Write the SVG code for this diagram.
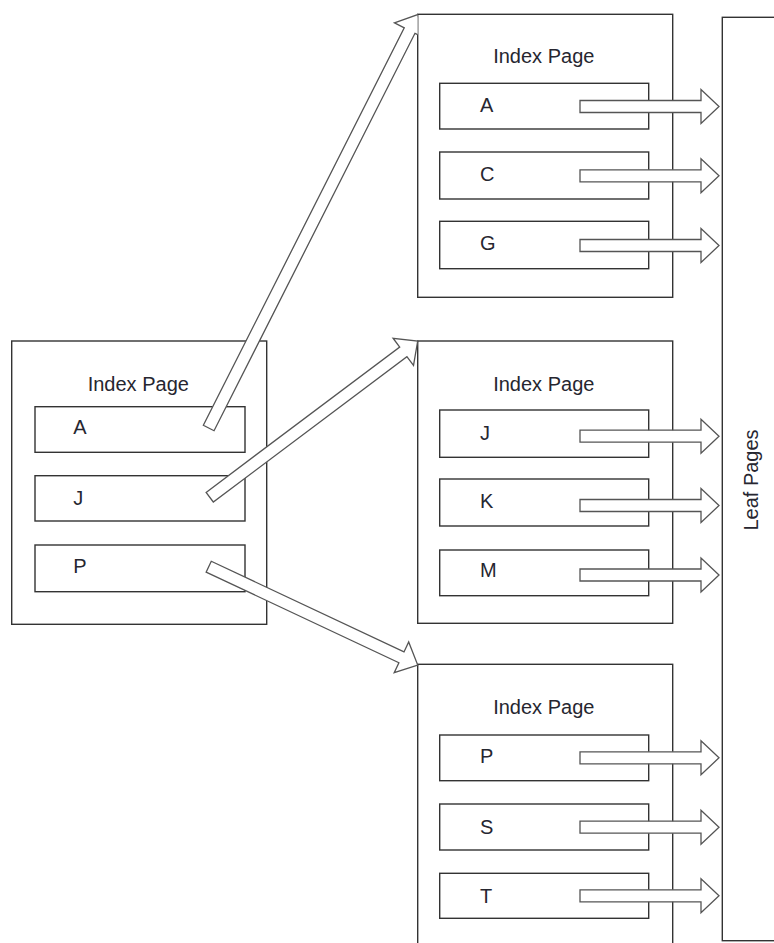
<svg xmlns="http://www.w3.org/2000/svg" width="774" height="943" viewBox="0 0 774 943">
<style>
.box{fill:#fff;stroke:#333;stroke-width:1.4}
.row{fill:#fff;stroke:#333;stroke-width:1.4}
.arr{fill:#fff;stroke:#555;stroke-width:1.3;stroke-linejoin:miter}
.t{font-family:"Liberation Sans",Arial,sans-serif;font-size:20px;fill:#262630}
.c{text-anchor:middle}
</style>
<defs>
<path id="harrow" d="M0,-6 H121 V-17 L139,0 L121,17 V6 H0 Z"/>
<clipPath id="clip1"><rect x="0" y="0" width="417.7" height="943"/></clipPath>
</defs>
<rect width="774" height="943" fill="#fff"/>

<g id="root-index">
<rect class="box" x="11.7" y="341" width="255" height="283.3"/>
<text class="t c" x="138.3" y="391">Index Page</text>
<rect class="row" x="35" y="406.7" width="210" height="45.6"/>
<text class="t" x="73.3" y="434.3">A</text>
<rect class="row" x="35" y="475.7" width="210" height="45.3"/>
<text class="t" x="73.3" y="505">J</text>
<rect class="row" x="35" y="545" width="210" height="46.7"/>
<text class="t" x="73.3" y="573">P</text>
</g>

<g id="index-top">
<rect class="box" x="417.7" y="14.3" width="255" height="283"/>
<text class="t c" x="543.8" y="62.7">Index Page</text>
<rect class="row" x="439.7" y="83.3" width="209" height="45.7"/>
<text class="t" x="480" y="112">A</text>
<rect class="row" x="439.7" y="152" width="209" height="47"/>
<text class="t" x="480" y="181">C</text>
<rect class="row" x="439.7" y="221.3" width="209" height="47.4"/>
<text class="t" x="480" y="250">G</text>
</g>

<g id="index-middle">
<rect class="box" x="417.7" y="341" width="255" height="282.3"/>
<text class="t c" x="543.8" y="390.7">Index Page</text>
<rect class="row" x="439.7" y="410" width="209" height="47.3"/>
<text class="t" x="480" y="440">J</text>
<rect class="row" x="439.7" y="479" width="209" height="47"/>
<text class="t" x="480" y="508.3">K</text>
<rect class="row" x="439.7" y="550" width="209" height="45.7"/>
<text class="t" x="480" y="577.3">M</text>
</g>

<g id="index-bottom">
<rect class="box" x="417.7" y="664.3" width="255" height="300"/>
<text class="t c" x="543.8" y="714.3">Index Page</text>
<rect class="row" x="439.7" y="735" width="209" height="45.7"/>
<text class="t" x="480" y="763.3">P</text>
<rect class="row" x="439.7" y="804" width="209" height="46"/>
<text class="t" x="480" y="834">S</text>
<rect class="row" x="439.7" y="873.3" width="209" height="45"/>
<text class="t" x="480" y="902.7">T</text>
</g>

<g id="leaf-pages">
<rect class="box" x="722.3" y="17.3" width="80" height="923.4"/>
<text class="t c" transform="translate(757.5,480) rotate(-90)">Leaf Pages</text>
</g>

<g id="connectors">
<g clip-path="url(#clip1)">
<path class="arr" transform="translate(208.7,428) rotate(-63.18)" d="M0,-6 H445.3 V-17 L463.3,0 L445.3,17 V6 H0 Z"/>
</g>
<path class="arr" transform="translate(209.7,497.2) rotate(-36.9)" d="M0,-6 H242.1 V-17 L260.1,0 L242.1,17 V6 H0 Z"/>
<path class="arr" transform="translate(208.7,566.7) rotate(25.19)" d="M0,-6 H213 V-17 L231,0 L213,17 V6 H0 Z"/>
<use href="#harrow" class="arr" x="580" y="106.5"/>
<use href="#harrow" class="arr" x="580" y="175.8"/>
<use href="#harrow" class="arr" x="580" y="245.5"/>
<use href="#harrow" class="arr" x="580" y="436.2"/>
<use href="#harrow" class="arr" x="580" y="505.5"/>
<use href="#harrow" class="arr" x="580" y="575"/>
<use href="#harrow" class="arr" x="580" y="757.8"/>
<use href="#harrow" class="arr" x="580" y="827.2"/>
<use href="#harrow" class="arr" x="580" y="895.8"/>
</g>
</svg>
